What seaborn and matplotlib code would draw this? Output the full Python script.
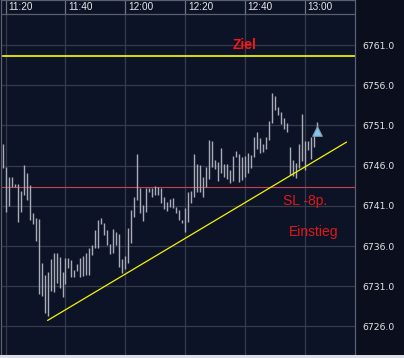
import numpy as np
import pandas as pd
import matplotlib
matplotlib.use("Agg")
import matplotlib.pyplot as plt
import matplotlib.transforms as mtransforms
from matplotlib.patches import Rectangle
import seaborn as sns

# 1-Minuten-Bars ab 11:19 (Hoch / Tief)
bar_start = "11:19"
highs = [6748.70, 6745.88, 6744.63, 6744.63, 6743.72, 6743.72, 6742.89, 6746.12, 6745.13, 6743.60,
         6740.08, 6739.46, 6739.33, 6733.94, 6732.41, 6732.82, 6734.36, 6735.18, 6735.18, 6734.68,
         6732.82, 6734.56, 6734.56, 6734.27, 6733.03, 6733.77, 6734.48, 6734.77, 6735.18, 6735.73,
         6736.14, 6738.00, 6739.25, 6739.46, 6738.84, 6738.00, 6736.26, 6738.09, 6737.79, 6737.50,
         6734.36, 6734.77, 6738.21, 6740.49, 6742.14, 6747.46, 6743.19, 6741.11, 6743.19, 6743.19,
         6743.19, 6743.48, 6743.31, 6743.19, 6742.07, 6741.52, 6741.82, 6741.95, 6740.83, 6740.49,
         6739.25, 6740.70, 6742.77, 6742.89, 6747.46, 6746.21, 6746.09, 6744.56, 6745.80, 6749.20,
         6749.11, 6746.71, 6746.50, 6748.16, 6746.21, 6746.21, 6745.47, 6747.21, 6747.87, 6747.46,
         6747.12, 6747.24, 6747.54, 6747.33, 6749.61, 6750.15, 6749.48, 6748.66, 6749.61, 6751.56,
         6755.00, 6754.71, 6753.30, 6752.72, 6751.90, 6751.27, 6748.36, 6746.71, 6746.30, 6748.66,
         6752.39, 6749.07, 6749.07, 6749.61, 6749.82, 6751.47]
lows = [6745.75, 6740.28, 6740.99, 6743.39, 6743.31, 6739.03, 6740.28, 6742.36, 6741.73, 6739.25,
        6738.75, 6736.67, 6730.04, 6729.83, 6727.72, 6727.34, 6730.45, 6730.33, 6731.37, 6730.75,
        6729.71, 6731.25, 6733.24, 6732.19, 6732.19, 6732.94, 6732.19, 6732.28, 6732.41, 6732.41,
        6734.89, 6735.73, 6735.73, 6738.75, 6737.38, 6736.14, 6735.02, 6735.10, 6736.14, 6733.44,
        6732.69, 6733.11, 6733.94, 6736.35, 6739.58, 6741.73, 6740.15, 6739.16, 6740.28, 6742.77,
        6742.14, 6742.36, 6742.36, 6741.40, 6740.58, 6740.40, 6740.90, 6740.70, 6740.08, 6739.25,
        6738.84, 6737.79, 6739.03, 6741.40, 6742.14, 6742.77, 6742.77, 6742.14, 6743.31, 6744.31,
        6745.80, 6745.55, 6744.13, 6745.05, 6744.56, 6744.31, 6743.89, 6744.13, 6747.12, 6744.01,
        6744.22, 6744.63, 6745.05, 6745.68, 6747.12, 6748.08, 6747.54, 6747.74, 6748.08, 6749.20,
        6751.27, 6752.93, 6752.31, 6751.15, 6750.53, 6750.23, 6744.84, 6744.76, 6744.43, 6745.75,
        6746.58, 6745.47, 6747.95, 6746.83, 6748.36, 6749.82]

time_ticks = ["11:20", "11:40", "12:00", "12:20", "12:40", "13:00"]
price_ticks = [6726, 6731, 6736, 6741, 6746, 6751, 6756, 6761]

target_level = 6759.6   # Ziel
stop_level = 6743.4     # SL -8p.
trend_times = ["11:34", "13:14"]
trend_values = [6726.75, 6748.94]
entry_time = "13:04"
entry_value = 6750.3


def minutes(t):
    # Minuten relativ zu 11:20
    h, m = t.split(":")
    return int(h) * 60 + int(m) - (11 * 60 + 20)


bars = pd.DataFrame({
    "t": minutes(bar_start) + np.arange(len(highs)),
    "high": highs,
    "low": lows,
})
trend = pd.DataFrame({"t": [minutes(t) for t in trend_times], "price": trend_values})

sns.set_style("dark")
plt.rcParams["font.family"] = ["DejaVu Sans"]

panel_bg = "#0a0e1d"
plot_bg = "#0d1327"
grid_col = "#363b4a"

fig = plt.figure(figsize=(4.04, 3.58), dpi=100, facecolor=panel_bg)
ax = fig.add_axes([1 / 404, 3.3 / 358, 353.5 / 404, 354.7 / 358])
ax.set_facecolor(plot_bg)

x_left, x_right = -1.57, 116.65
y_bottom, y_top = 6722.49, 6766.61
header_y = 6764.87

# Gitter
ax.hlines(price_ticks, x_left, x_right, color=grid_col, lw=0.9, zorder=1)
tick_x = [minutes(t) for t in time_ticks]
ax.vlines(tick_x, y_bottom, header_y, color=grid_col, lw=0.9, zorder=1)
ax.vlines(tick_x, header_y, y_top, color="#6c717e", lw=0.9, zorder=1)
ax.axhline(header_y, color="#5a5f6c", lw=0.9, zorder=1)

# Ziel- und Stopp-Linie
ax.axhline(target_level, color="#ffff00", lw=1.2, zorder=2)
ax.axhline(stop_level, color="#c8404c", lw=0.8, zorder=2)

# Kurs-Bars
ax.vlines(bars["t"], bars["low"], bars["high"], color="#a8acb6", lw=1.0, zorder=3)

# Trendlinie
sns.lineplot(data=trend, x="t", y="price", ax=ax, color="#f4f400", lw=0.9, zorder=4)

# Einstieg
sns.scatterplot(x=[minutes(entry_time)], y=[entry_value], ax=ax, marker="^", s=48,
                color="#7cc8f4", edgecolor="#8a94a4", linewidth=0.8, zorder=5)

ax.set_xlim(x_left, x_right)
ax.set_ylim(y_bottom, y_top)
ax.set_xlabel("")
ax.set_ylabel("")
ax.set_xticks([])
ax.yaxis.tick_right()
ax.set_yticks(price_ticks)
ax.set_yticklabels([f"{v:.1f}" for v in price_ticks])
ax.tick_params(axis="y", length=0, pad=5.9, labelsize=6.7, labelcolor="#e6e6e6")
ax.grid(False)
for side in ["top", "left", "right"]:
    ax.spines[side].set_color("#5a6070")
    ax.spines[side].set_linewidth(0.9)
ax.spines["bottom"].set_color("#8a90a0")

# Zeitachse oben
blend = mtransforms.blended_transform_factory(ax.transData, ax.transAxes)
for t in time_ticks:
    ax.text(minutes(t) + 0.9, 1 - 7 / 354.7, t, transform=blend, ha="left", va="center",
            fontsize=7.2, color="#e8e8e8", family="Liberation Sans")

# Beschriftungen
ax.text(76.0, 6760.51, "Ziel", color="#ff1414", fontsize=10, fontweight="bold",
        family="Liberation Sans", va="baseline")
ax.text(92.6, 6741.11, "SL -8p.", color="#e01818", fontsize=10,
        family="Liberation Sans", va="baseline")
ax.text(94.8, 6737.3, "Einstieg", color="#e01818", fontsize=10,
        family="Liberation Sans", va="baseline")

fig.patches.append(Rectangle((0, 0), 1, 3.3 / 358, transform=fig.transFigure,
                             facecolor="#dcdfe6", edgecolor="none"))

fig.savefig("out.png", dpi=100, facecolor=panel_bg)
